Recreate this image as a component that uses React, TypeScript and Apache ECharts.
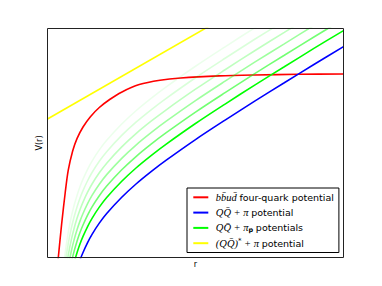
import React, { useEffect, useRef } from "react";
import * as echarts from "echarts";

// r samples (axis units, 0..10) shared by the Q Q̄ + π family
const rGrid = [0.5, 0.6, 0.7, 0.8, 0.9, 1.0, 1.1, 1.2, 1.35, 1.5, 1.75, 2, 2.5, 3, 3.5, 4, 5, 6, 7, 8, 9, 10];

// Q Q̄ + π potential (blue)
const blueV = [-4.15, -2.97, -2.11, -1.45, -0.92, -0.48, -0.1, 0.22, 0.64, 1.0, 1.5, 1.92, 2.62, 3.22, 3.75, 4.24, 5.15, 6.0, 6.83, 7.63, 8.43, 9.21];

// Q Q̄ + π_p potentials (green family)
const green1 = [-3.45, -2.27, -1.41, -0.75, -0.22, 0.22, 0.6, 0.92, 1.34, 1.7, 2.2, 2.62, 3.32, 3.92, 4.45, 4.94, 5.85, 6.7, 7.53, 8.33, 9.13, 9.91];
const green2 = [-2.95, -1.77, -0.91, -0.25, 0.28, 0.72, 1.1, 1.42, 1.84, 2.2, 2.7, 3.12, 3.82, 4.42, 4.95, 5.44, 6.35, 7.2, 8.03, 8.83, 9.63, 10.41];
const green3 = [-2.45, -1.27, -0.41, 0.25, 0.78, 1.22, 1.6, 1.92, 2.34, 2.7, 3.2, 3.62, 4.32, 4.92, 5.45, 5.94, 6.85, 7.7, 8.53, 9.33, 10.13, 10.91];
const green4 = [-1.95, -0.77, 0.09, 0.75, 1.28, 1.72, 2.1, 2.42, 2.84, 3.2, 3.7, 4.12, 4.82, 5.42, 5.95, 6.44, 7.35, 8.2, 9.03, 9.83, 10.63, 11.41];
const green5 = [-1.45, -0.27, 0.59, 1.25, 1.78, 2.22, 2.6, 2.92, 3.34, 3.7, 4.2, 4.62, 5.32, 5.92, 6.45, 6.94, 7.85, 8.7, 9.53, 10.33, 11.13, 11.91];
const green6 = [-0.95, 0.23, 1.09, 1.75, 2.28, 2.72, 3.1, 3.42, 3.84, 4.2, 4.7, 5.12, 5.82, 6.42, 6.95, 7.44, 8.35, 9.2, 10.03, 10.83, 11.63, 12.41];
const greens = [green1, green2, green3, green4, green5, green6];
const greenAlpha = [1, 0.55, 0.38, 0.25, 0.15, 0.08];

// b b̄ u d̄ four-quark potential (red)
const redR = [0.34, 0.365, 0.48, 0.6, 0.7, 0.85, 1.0, 1.2, 1.45, 1.75, 2.1, 2.5, 3.1, 3.8, 4.5, 5.8, 7.0, 8.5, 10.0];
const redV = [-0.35, 0.0, 1.49, 2.85, 3.8, 4.65, 5.2, 5.7, 6.15, 6.55, 6.9, 7.22, 7.55, 7.74, 7.84, 7.93, 7.97, 8.0, 8.01];

// (Q Q̄)* + π potential (yellow)
const yellowR = [0, 10];
const yellowV = [6.05, 13.47];

const NAME_RED = "bb̄ud̄ four-quark potential";
const NAME_BLUE = "QQ̄ + π potential";
const NAME_GREEN = "QQ̄ + πₚ potentials";
const NAME_YELLOW = "(QQ̄)* + π potential";

const legendRich: Record<string, string> = {
  [NAME_RED]: "{g| }{m|bb̄ud̄} {t|four-quark potential}",
  [NAME_BLUE]: "{g| }{m|QQ̄ + π} {t|potential}",
  [NAME_GREEN]: "{g| }{m|QQ̄ + π}{s|p} {t|potentials}",
  [NAME_YELLOW]: "{g| }{m|(QQ̄)}{u|*}{m| + π} {t|potential}",
};

export default function App() {
  const ref = useRef<HTMLDivElement>(null);
  useEffect(() => {
    const chart = echarts.init(ref.current!, null, { renderer: "svg" });
    const zip = (xs: number[], ys: number[]) => xs.map((x, i) => [x, ys[i]]);
    const base = {
      type: "line" as const,
      showSymbol: false,
      symbol: "none",
      smooth: 0.3,
      clip: true,
      silent: true,
    };
    const series: any[] = [
      { ...base, name: NAME_RED, data: zip(redR, redV), color: "#ff0000", lineStyle: { color: "#ff0000", width: 1.6 } },
      { ...base, name: NAME_BLUE, data: zip(rGrid, blueV), color: "#0000ff", lineStyle: { color: "#0000ff", width: 1.6 } },
    ];
    greens.forEach((g, i) => {
      const c = `rgba(0,255,0,${greenAlpha[i]})`;
      series.push({ ...base, name: NAME_GREEN, data: zip(rGrid, g), color: i === 0 ? "#00ff00" : c, lineStyle: { color: c, width: 1.6 } });
    });
    series.push({ ...base, name: NAME_YELLOW, data: zip(yellowR, yellowV), color: "#ffff00", lineStyle: { color: "#ffff00", width: 1.6 } });

    chart.setOption({
      animation: false,
      backgroundColor: "#ffffff",
      grid: {
        left: 47.5,
        right: 38.5,
        top: 28.5,
        bottom: 28.5,
        show: true,
        borderColor: "#222",
        borderWidth: 1,
        backgroundColor: "transparent",
        z: 10,
      },
      xAxis: {
        type: "value",
        min: 0,
        max: 10,
        axisLine: { show: false },
        axisTick: { show: false },
        axisLabel: { show: false },
        splitLine: { show: false },
        name: "r",
        nameLocation: "middle",
        nameGap: 3,
        nameTextStyle: { fontFamily: "DejaVu Sans", fontSize: 8, color: "#000" },
      },
      yAxis: {
        type: "value",
        min: 0,
        max: 10,
        axisLine: { show: false },
        axisTick: { show: false },
        axisLabel: { show: false },
        splitLine: { show: false },
        name: "V(r)",
        nameLocation: "middle",
        nameGap: 4,
        nameRotate: 90,
        nameTextStyle: { fontFamily: "DejaVu Sans", fontSize: 8, color: "#000" },
      },
      legend: {
        data: [NAME_RED, NAME_BLUE, NAME_GREEN, NAME_YELLOW],
        orient: "vertical",
        left: 187,
        top: 188,
        padding: [3.3, 5, 3.3, 6.3],
        itemGap: 3.3,
        itemWidth: 15,
        itemHeight: 2,
        icon: "rect",
        selectedMode: false,
        backgroundColor: "#fff",
        borderColor: "#000",
        borderWidth: 1,
        borderRadius: 0,
        formatter: (name: string) => legendRich[name] || name,
        textStyle: {
          color: "#000",
          fontSize: 9.5,
          lineHeight: 12,
          rich: {
            g: { width: 2.5, lineHeight: 12 },
            m: { fontFamily: "Liberation Serif", fontStyle: "italic", fontSize: 10.5, lineHeight: 12, color: "#000" },
            t: { fontFamily: "DejaVu Sans", fontSize: 9.5, lineHeight: 12, color: "#000" },
            s: { fontFamily: "DejaVu Sans", fontWeight: "bold", fontSize: 6.5, lineHeight: 12, verticalAlign: "bottom", color: "#000" },
            u: { fontFamily: "DejaVu Sans", fontSize: 7, lineHeight: 12, verticalAlign: "top", color: "#000" },
          },
        },
      },
      series,
    });
    return () => chart.dispose();
  }, []);
  return <div ref={ref} style={{ position: "fixed", left: 0, top: 0, width: 382, height: 286 }} />;
}
